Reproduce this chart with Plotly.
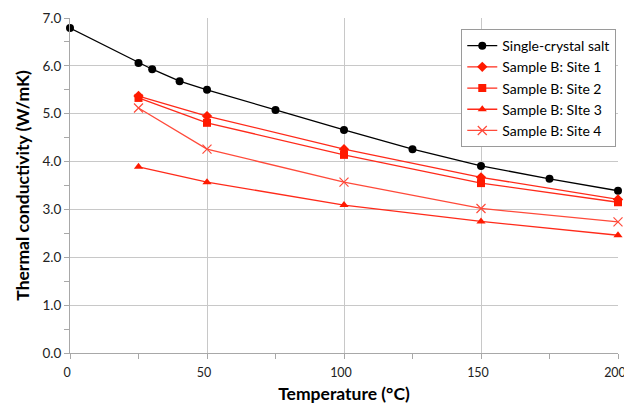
import plotly.graph_objects as go

x_salt = [0, 25, 30, 40, 50, 75, 100, 125, 150, 175, 200]
y_salt = [6.79, 6.06, 5.93, 5.68, 5.50, 5.08, 4.66, 4.26, 3.91, 3.64, 3.39]

x_site = [25, 50, 100, 150, 200]
y_site1 = [5.37, 4.95, 4.26, 3.67, 3.21]
y_site2 = [5.33, 4.81, 4.14, 3.55, 3.15]
y_site3 = [3.89, 3.57, 3.09, 2.75, 2.46]
y_site4 = [5.12, 4.26, 3.57, 3.02, 2.74]

names = ["Single-crystal salt", "Sample B: Site 1", "Sample B: Site 2",
         "Sample B: SIte 3", "Sample B: Site 4"]

fig = go.Figure()
fig.add_trace(go.Scatter(x=x_salt, y=y_salt, name=names[0], mode="lines+markers",
                         line=dict(color="black", width=1.3), cliponaxis=False,
                         marker=dict(symbol="circle", size=8, color="black")))
fig.add_trace(go.Scatter(x=x_site, y=y_site1, name=names[1], mode="lines+markers",
                         line=dict(color="#ff2a1a", width=1.3), cliponaxis=False,
                         marker=dict(symbol="diamond", size=8, color="#ff1a00")))
fig.add_trace(go.Scatter(x=x_site, y=y_site2, name=names[2], mode="lines+markers",
                         line=dict(color="#ff2a1a", width=1.3), cliponaxis=False,
                         marker=dict(symbol="square", size=8, color="#ff1a00")))
fig.add_trace(go.Scatter(x=x_site, y=y_site3, name=names[3], mode="lines+markers",
                         line=dict(color="#ff2a1a", width=1.3), cliponaxis=False,
                         marker=dict(symbol="triangle-up", size=8, color="#ff1a00")))
fig.add_trace(go.Scatter(x=x_site, y=y_site4, name=names[4], mode="lines+markers",
                         line=dict(color="#ff4a3a", width=1.3), cliponaxis=False,
                         marker=dict(symbol="x-thin", size=9, color="#ff4a3a",
                                     line=dict(color="#ff4a3a", width=1.2))))

# The page body has an 8px default margin, so the figure is sized to fit the window.
fig.update_layout(
    width=624, height=397,
    margin=dict(l=62, r=14, t=10, b=52),
    paper_bgcolor="white", plot_bgcolor="white",
    font=dict(family="Lato, Open Sans, sans-serif", size=13, color="#222222"),
    legend=dict(x=0.714, y=0.967, xanchor="left", yanchor="top",
                bgcolor="white", bordercolor="#9a9a9a", borderwidth=1,
                font=dict(size=14, color="black"), itemwidth=30),
    showlegend=True,
)
fig.update_xaxes(
    range=[0, 200], dtick=50, tick0=0, automargin=False, ticklabeloverflow="allow",
    tickfont=dict(size=12.5), ticklabelstandoff=3, ticklabelshift=-3,
    showgrid=True, gridcolor="#c8c8c8", gridwidth=1,
    showline=True, linecolor="#a8a8a8", linewidth=1, mirror=False,
    ticks="outside", ticklen=5, tickcolor="#a8a8a8",
    minor=dict(dtick=25, ticks="outside", ticklen=5, tickcolor="#a8a8a8", showgrid=False),
    zeroline=False,
    title=dict(text="<b>Temperature (°C)</b>", font=dict(size=17.5, color="black"), standoff=8),
)
fig.update_yaxes(
    range=[0, 7], dtick=1, tick0=0, tickformat=".1f", automargin=False,
    tickfont=dict(size=13.5),
    showgrid=True, gridcolor="#c8c8c8", gridwidth=1,
    showline=True, linecolor="#a8a8a8", linewidth=1,
    ticks="outside", ticklen=5, tickcolor="#a8a8a8",
    minor=dict(dtick=0.5, ticks="outside", ticklen=5, tickcolor="#a8a8a8", showgrid=False),
    zeroline=False,
    title=dict(text="<b>Thermal conductivity (W/mK)</b>", font=dict(size=17.5, color="black"), standoff=8),
)

fig.write_html("out.html")
